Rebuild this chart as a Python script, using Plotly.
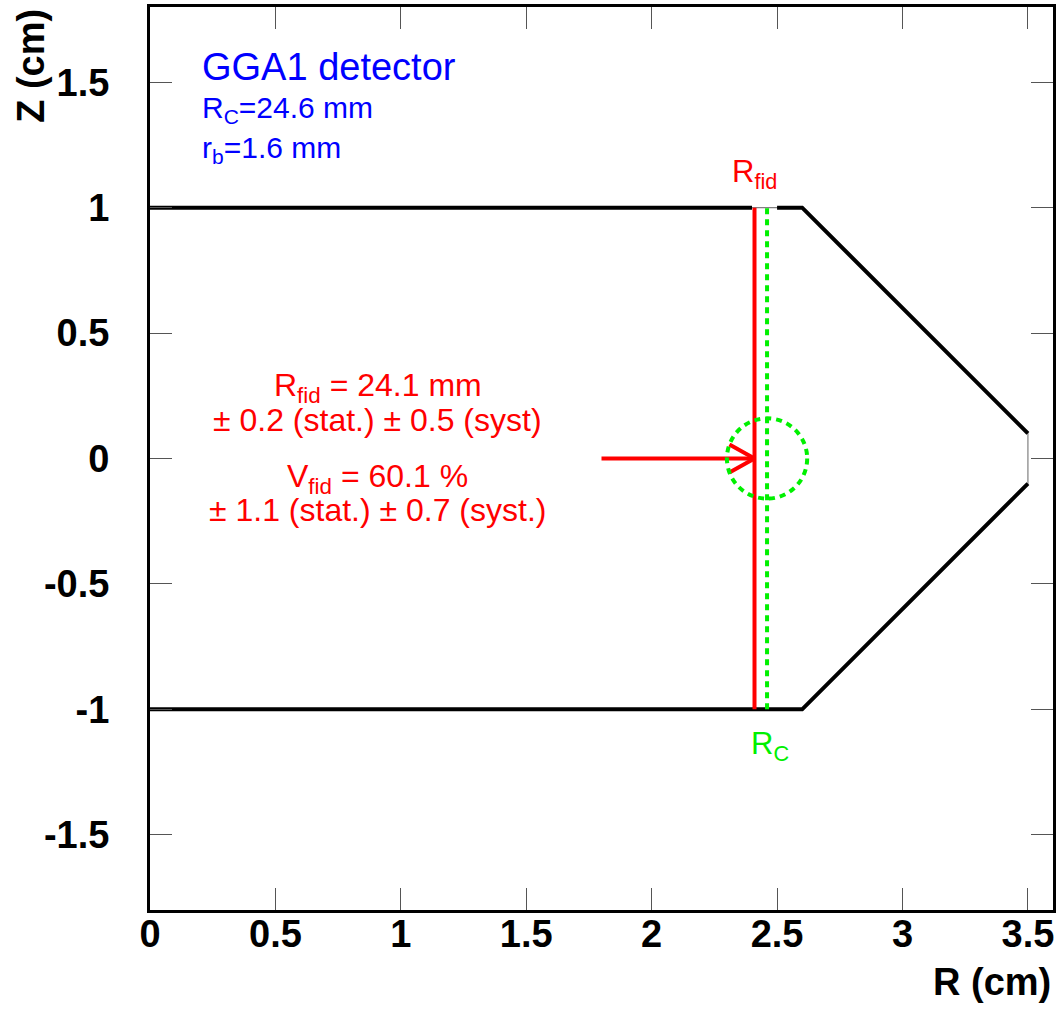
import plotly.graph_objects as go

# ---- data ----
# detector outline (thin gray, full contour)
outline_r = [0.0, 2.6, 3.5, 3.5, 2.6, 0.0]
outline_z = [1.0, 1.0, 0.1, -0.1, -1.0, -1.0]
# thick black edges
top_left_r = [0.0, 2.40]
top_left_z = [1.0, 1.0]
top_right_r = [2.50, 2.6, 3.5]
top_right_z = [1.0, 1.0, 0.1]
bottom_r = [3.5, 2.6, 0.0]
bottom_z = [-0.1, -1.0, -1.0]

R_fid = 2.41       # cm
R_C = 2.46         # cm
r_b = 0.16         # cm
z_half = 1.0       # cm
arrow_start = 1.80
arrow_head_len = 0.10
arrow_head_half = 0.056

x_ticks = [0, 0.5, 1, 1.5, 2, 2.5, 3, 3.5]
x_tick_labels = ["0", "0.5", "1", "1.5", "2", "2.5", "3", "3.5"]
y_ticks = [-1.5, -1, -0.5, 0, 0.5, 1, 1.5]
y_tick_labels = ["-1.5", "-1", "-0.5", "0", "0.5", "1", "1.5"]

RED = "#ff0000"
GREEN = "#00f000"
BLUE = "#0000ff"
FONT = "Liberation Sans, Arial, sans-serif"

fig = go.Figure()

fig.add_trace(go.Scatter(x=outline_r, y=outline_z, mode="lines",
                         line=dict(color="#808080", width=1.2), hoverinfo="skip"))
for xr, zr in [(top_left_r, top_left_z), (top_right_r, top_right_z), (bottom_r, bottom_z)]:
    fig.add_trace(go.Scatter(x=xr, y=zr, mode="lines",
                             line=dict(color="black", width=4), hoverinfo="skip"))

# R_C dotted green line
fig.add_trace(go.Scatter(x=[R_C, R_C], y=[-z_half, z_half], mode="lines",
                         line=dict(color=GREEN, width=4, dash="6px,5px"), hoverinfo="skip"))
# R_fid red line
fig.add_trace(go.Scatter(x=[R_fid, R_fid], y=[-z_half, z_half], mode="lines",
                         line=dict(color=RED, width=4), hoverinfo="skip"))
# arrow
fig.add_trace(go.Scatter(x=[arrow_start, R_fid], y=[0, 0], mode="lines",
                         line=dict(color=RED, width=4), hoverinfo="skip"))
fig.add_trace(go.Scatter(x=[R_fid - arrow_head_len, R_fid, R_fid - arrow_head_len],
                         y=[arrow_head_half, 0, -arrow_head_half], mode="lines",
                         line=dict(color=RED, width=4), hoverinfo="skip"))

# bubble circle
fig.add_shape(type="circle", xref="x", yref="y",
              x0=R_C - r_b, x1=R_C + r_b, y0=-r_b, y1=r_b,
              line=dict(color=GREEN, width=4, dash="6px,5px"))

def ann(text, x, y, size, color, xanchor="center"):
    fig.add_annotation(text=text, x=x, y=y,
                       xref="x", yref="y", showarrow=False, xanchor=xanchor,
                       yanchor="middle", font=dict(family=FONT, size=size, color=color))

ann("GGA1 detector", 0.2, 1.56, 38, BLUE, xanchor="left")
ann("R<sub>C</sub>=24.6 mm", 0.2, 1.39, 30, BLUE, xanchor="left")
ann("r<sub>b</sub>=1.6 mm", 0.2, 1.23, 30, BLUE, xanchor="left")

ann("R<sub>fid</sub> = 24.1 mm", 0.907, 0.285, 32, RED)
ann("± 0.2 (stat.) ± 0.5 (syst)", 0.907, 0.155, 32, RED)
ann("V<sub>fid</sub> = 60.1 %", 0.907, -0.08, 32, RED)
ann("± 1.1 (stat.) ± 0.7 (syst.)", 0.907, -0.205, 32, RED)

ann("R<sub>fid</sub>", R_fid, 1.135, 31, RED)
ann("R<sub>C</sub>", R_C + 0.01, -1.145, 31, GREEN)

# axis titles
fig.add_annotation(text="<b>R (cm)</b>", x=1.0, y=-0.08, xref="paper", yref="paper",
                   showarrow=False, xanchor="right", yanchor="middle",
                   font=dict(family=FONT, size=38, color="black"))
fig.add_annotation(text="<b>Z (cm)</b>", x=-0.132, y=1.0, xref="paper", yref="paper",
                   showarrow=False, xanchor="center", yanchor="top", textangle=-90,
                   font=dict(family=FONT, size=38, color="black"))

axis_common = dict(showline=True, linecolor="black", linewidth=3, mirror="ticks",
                   ticks="inside", ticklen=22, tickcolor="#555555", tickwidth=1,
                   showgrid=False, zeroline=False,
                   tickfont=dict(family=FONT, size=38, color="black"))

fig.update_xaxes(range=[0, 3.6], tickvals=x_ticks,
                 ticktext=["<b>%s</b>" % t for t in x_tick_labels],
                 ticklabelstandoff=-12, **axis_common)
fig.update_yaxes(range=[-1.8, 1.8], tickvals=y_ticks,
                 ticktext=["<b>%s</b>" % t for t in y_tick_labels],
                 ticklabelstandoff=30, **axis_common)

fig.update_layout(width=1060, height=1009, showlegend=False,
                  margin=dict(l=150, r=4, t=5, b=99),
                  paper_bgcolor="white", plot_bgcolor="white")

fig.write_html("out.html", config={"displayModeBar": False},
               post_script="document.body.style.margin='0px';")
